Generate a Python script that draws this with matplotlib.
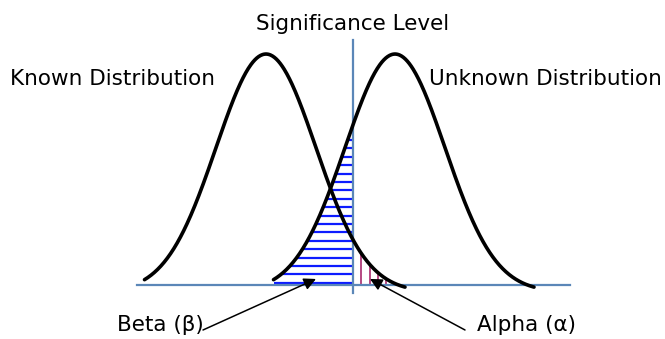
"""
Hypothesis test sketch: known vs unknown distribution,
with the significance level and the alpha / beta regions hatched.
"""

import matplotlib

matplotlib.use("Agg")
import matplotlib.pyplot as plt
import numpy as np

# ── Colours ────────────────────────────────────────────
AXIS_BLUE = "#5b87b8"
HATCH_BLUE = "#0d1cff"
HATCH_PINK = "#b03a78"
CURVE = "#000000"

# ── Data (x in units of sigma) ─────────────────────────
means = [0.0, 2.58]            # known, unknown
sigma = 1.0
tail_span = [-2.43, 2.78]      # where each drawn curve starts / stops (in sigma)
floor = 0.03                   # curves are lifted so the tails land on the baseline
sig_level = 1.74
beta_step = 0.0364             # spacing of beta hatch lines (height units)
alpha_step = 0.166             # spacing of alpha hatch lines (sigma units)
labels = ["Known Distribution", "Unknown Distribution",
          "Significance Level", "Beta (β)", "Alpha (α)"]


def bell(x, mu):
    g = np.exp(-0.5 * ((x - mu) / sigma) ** 2)
    return (g - floor) / (1 - floor)


def bell_left_x(y, mu):
    # inverse of the rising side of the bell
    g = y * (1 - floor) + floor
    return mu - sigma * np.sqrt(-2 * np.log(g))


# ── Figure ─────────────────────────────────────────────
fig = plt.figure(figsize=(6.65, 3.39), dpi=100)
fig.patch.set_facecolor("white")
ax = fig.add_axes([0, 0, 1, 1])
ax.set_xlim(-5.32, 7.98)
ax.set_ylim(-0.234, 1.234)
ax.axis("off")

# Beta region: horizontal hatch under the unknown curve, left of the cut-off
mu_k, mu_u = means
top_beta = bell(sig_level, mu_u)
levels = np.arange(0.009, top_beta, beta_step)
left = np.maximum(bell_left_x(np.maximum(levels, 1e-6), mu_u), mu_u + tail_span[0])
ax.hlines(levels, left, sig_level, color=HATCH_BLUE, linewidth=1.6, zorder=1)

# Alpha region: vertical hatch under the known curve, right of the cut-off
xs = np.arange(sig_level + alpha_step, mu_k + tail_span[1], alpha_step)
hs = bell(xs, mu_k)
xs, hs = xs[hs > 0], hs[hs > 0]
ax.vlines(xs, 0, hs, color=HATCH_PINK, linewidth=1.3, zorder=1)

# The two distributions
for mu in means:
    x = np.linspace(mu + tail_span[0], mu + tail_span[1], 400)
    ax.plot(x, bell(x, mu), color=CURVE, linewidth=2.6,
            solid_capstyle="round", zorder=3)

# Baseline and significance level
ax.plot([-2.58, 6.08], [0, 0], color=AXIS_BLUE, linewidth=1.6, zorder=2)
ax.plot([sig_level, sig_level], [-0.035, 1.06], color=AXIS_BLUE,
        linewidth=1.6, zorder=2)

# Labels
fs = 15.5
ax.text(-5.12, 0.866, labels[0], fontsize=fs, ha="left", va="baseline")
ax.text(7.92, 0.866, labels[1], fontsize=fs, ha="right", va="baseline")
ax.text(sig_level, 1.104, labels[2], fontsize=fs, ha="center", va="baseline")
ax.text(-2.98, -0.199, labels[3], fontsize=fs, ha="left", va="baseline")
ax.text(4.22, -0.199, labels[4], fontsize=fs, ha="left", va="baseline")

# Pointer arrows
arrow = dict(arrowstyle="-|>", color="black", lw=1.1,
             mutation_scale=18, shrinkA=0, shrinkB=0)
ax.annotate("", xy=(1.0, 0.026), xytext=(-1.26, -0.195), arrowprops=arrow)
ax.annotate("", xy=(2.08, 0.026), xytext=(3.98, -0.195), arrowprops=arrow)

fig.savefig("out.png", dpi=100, facecolor="white")
plt.close(fig)
